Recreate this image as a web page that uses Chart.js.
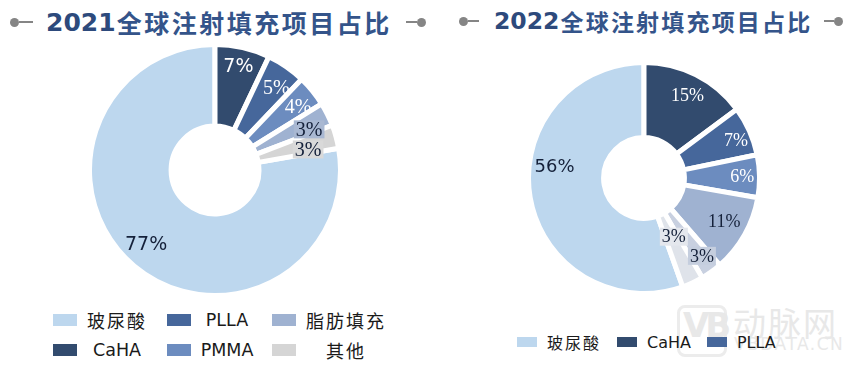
<!DOCTYPE html>
<html>
<head>
<meta charset="utf-8">
<script src="https://cdn.jsdelivr.net/npm/chart.js@4.4.1/dist/chart.umd.min.js"></script>
<style>
  body { margin:0; background:#fff; width:855px; height:367px; overflow:hidden; position:relative;
         font-family:"DejaVu Sans","Noto Sans CJK SC",sans-serif; }
  .title { position:absolute; display:flex; align-items:center; white-space:nowrap; color:#2d4a7c; }
  .title .yr { font-family:"DejaVu Sans"; font-weight:bold; flex:none; }
  .title .ch { display:flex; justify-content:center; flex:none; min-width:0; overflow:visible;
               font-family:"Noto Sans CJK SC"; font-weight:bold; color:#34548a; }
  .dot { width:9px; height:9px; border-radius:50%; background:#858585; display:inline-block; flex:none; }
  .bar { height:2px; background:#858585; display:inline-block; flex:none; }
  canvas { position:absolute; }
  .leg { position:absolute; display:flex; align-items:center; color:#1a1a1a; white-space:nowrap; }
  .sw { display:inline-block; flex:none; }
  .cjk { letter-spacing:2px; }
  .wm { position:absolute; color:#e8e8e8; white-space:nowrap; }
</style>
</head>
<body>

<div class="title" id="t2021" style="left:10px;top:4px;"></div>
<div class="title" id="t2022" style="left:459px;top:4px;"></div>

<!-- watermark -->
<div class="wm" style="left:677px;top:305px;width:44px;height:46px;border:3px solid #ececec;border-radius:8px;"></div>
<div class="wm" style="left:683px;top:305px;font:bold 34px 'DejaVu Sans';letter-spacing:-4px;">VB</div>
<div class="wm" style="left:733px;top:298px;font:33px 'Noto Sans CJK SC';letter-spacing:2px;">动脉网</div>
<div class="wm" style="left:734px;top:334px;font:17px 'DejaVu Sans';letter-spacing:1.5px;">VBDATA.CN</div>

<canvas id="c2021" width="256" height="256" style="left:87px;top:42px"></canvas>
<canvas id="c2022" width="236" height="236" style="left:526px;top:60px"></canvas>

<div id="legend2021"></div>
<div id="legend2022"></div>

<script>
// ---- data ----
const titleZh = '全球注射填充项目占比';

const labels2021 = ['玻尿酸', 'CaHA', 'PLLA', 'PMMA', '脂肪填充', '其他'];
const values2021 = [77, 7, 5, 4, 3, 3];
const colors2021 = ['#bdd7ee', '#324b6e', '#46679b', '#6c8cbf', '#9fb2d1', '#d5d5d5'];

const labels2022 = ['玻尿酸', 'CaHA', 'PLLA', 'PMMA', '脂肪填充', 'PCL', '其他'];
const values2022 = [56, 15, 7, 6, 11, 3, 3];
const colors2022 = ['#bdd7ee', '#324b6e', '#46679b', '#6c8cbf', '#9fb2d1', '#c8d0e0', '#dfe3ea'];

const SERIF = '"Liberation Serif", serif';
const SANS  = '"DejaVu Sans", sans-serif';
const DARK  = '#15213a';

// ---- titles: ornament, year, chinese text in fixed cells, ornament ----
function buildTitle(id, year, o) {
  document.getElementById(id).innerHTML =
    `<span class="dot"></span><span class="bar" style="width:${o.bar1}px;margin-right:${o.gap1}px"></span>` +
    `<span class="yr" style="font-size:${o.yr}px">${year}</span>` +
    [...titleZh].map(c => `<span class="ch" style="width:${o.cell}px;font-size:${o.zh}px">${c}</span>`).join('') +
    `<span class="bar" style="width:${o.bar2}px;margin-left:${o.gap2}px"></span><span class="dot"></span>`;
}
buildTitle('t2021', '2021', { bar1: 14, gap1: 13, yr: 25, cell: 27.5, zh: 25, bar2: 11, gap2: 15 });
buildTitle('t2022', '2022', { bar1: 11, gap1: 15, yr: 23.5, cell: 25.2, zh: 23, bar2: 10, gap2: 13 });

// percentage labels drawn at each arc's mid angle
const sliceLabels = {
  id: 'sliceLabels',
  afterDatasetsDraw(chart, args, opts) {
    const ctx = chart.ctx;
    const vals = chart.data.datasets[0].data;
    chart.getDatasetMeta(0).data.forEach((arc, i) => {
      const p = arc.getProps(['x', 'y', 'startAngle', 'endAngle', 'outerRadius'], true);
      const a = (p.startAngle + p.endAngle) / 2 + (opts.shift[i] || 0) * Math.PI / 180;
      const r = p.outerRadius * opts.radius[i];
      const x = p.x + r * Math.cos(a);
      const y = p.y + r * Math.sin(a);
      const text = vals[i] + '%';
      ctx.save();
      ctx.font = opts.font[i];
      ctx.textAlign = 'center';
      ctx.textBaseline = 'middle';
      if (opts.box[i]) {
        const w = ctx.measureText(text).width + 4;
        ctx.fillStyle = opts.box[i];
        ctx.fillRect(x - w / 2, y - 9, w, 18);
      }
      ctx.fillStyle = opts.color[i];
      ctx.fillText(text, x, y + 1);
      ctx.restore();
    });
  }
};

function makeChart(id, labels, values, colors, lab) {
  const total = values.reduce((a, b) => a + b, 0);
  return new Chart(document.getElementById(id), {
    type: 'doughnut',
    data: { labels, datasets: [{
      data: values,
      backgroundColor: colors,
      borderColor: '#fff',
      borderWidth: 5,
      hoverOffset: 0,
    }]},
    options: {
      responsive: false,
      animation: false,
      cutout: '35%',
      rotation: -360 * values[0] / total,   // first slice ends at 12 o'clock
      layout: { padding: 0 },
      plugins: { legend: { display: false }, tooltip: { enabled: false }, sliceLabels: lab },
    },
    plugins: [sliceLabels],
  });
}

makeChart('c2021', labels2021, values2021, colors2021, {
  font:   ['19px ' + SANS, '19px ' + SANS, '20px ' + SERIF, '20px ' + SERIF, '20px ' + SERIF, '20px ' + SERIF],
  color:  [DARK, '#fff', '#fff', '#fff', DARK, DARK],
  box:    [null, null, null, null, '#a9b8d2', '#d9d9d9'],
  radius: [0.805, 0.845, 0.82, 0.83, 0.817, 0.76],
  shift:  [3, 0, 2, 2, 3, 3],
});

makeChart('c2022', labels2022, values2022, colors2022, {
  font:   ['18px ' + SANS, '18px ' + SERIF, '18px ' + SERIF, '18px ' + SERIF, '18px ' + SERIF, '18px ' + SERIF, '18px ' + SERIF],
  color:  [DARK, '#fff', '#fff', '#fff', DARK, DARK, DARK],
  box:    [null, null, null, null, null, '#c5cede', '#e4e7ed'],
  radius: [0.78, 0.81, 0.86, 0.85, 0.79, 0.84, 0.57],
  shift:  [17, 1, 2, 0, -1, -1, -2],
});

// ---- legends ----
const hasCJK = s => /[\u4e00-\u9fff]/.test(s);

// 2021: two rows, filled column by column
const colLeft = [53, 167, 272], textW = [80, 72, 100], rowMid = [320, 350];
document.getElementById('legend2021').innerHTML = labels2021.map((l, i) => {
  const c = Math.floor(i / 2), r = i % 2;
  return `<div class="leg" style="left:${colLeft[c]}px;top:${rowMid[r] - 11}px;height:22px">
    <span class="sw" style="width:24px;height:12px;background:${colors2021[i]}"></span>
    <span class="${hasCJK(l) ? 'cjk' : ''}" style="width:${textW[c]}px;text-align:center;font-size:${hasCJK(l) ? 18 : 17.5}px">${l}</span>
  </div>`;
}).join('');

// 2022: single row, cropped after the third entry as in the source image
document.getElementById('legend2022').innerHTML =
  `<div class="leg" style="left:517px;top:331px;height:22px">` +
  labels2022.slice(0, 3).map((l, i) => `
    <span class="sw" style="width:20px;height:10px;background:${colors2022[i]};margin-right:10px"></span>
    <span class="${hasCJK(l) ? 'cjk' : ''}" style="font-size:16px;margin-right:16px">${l}</span>`).join('') +
  `</div>`;
</script>
</body>
</html>
